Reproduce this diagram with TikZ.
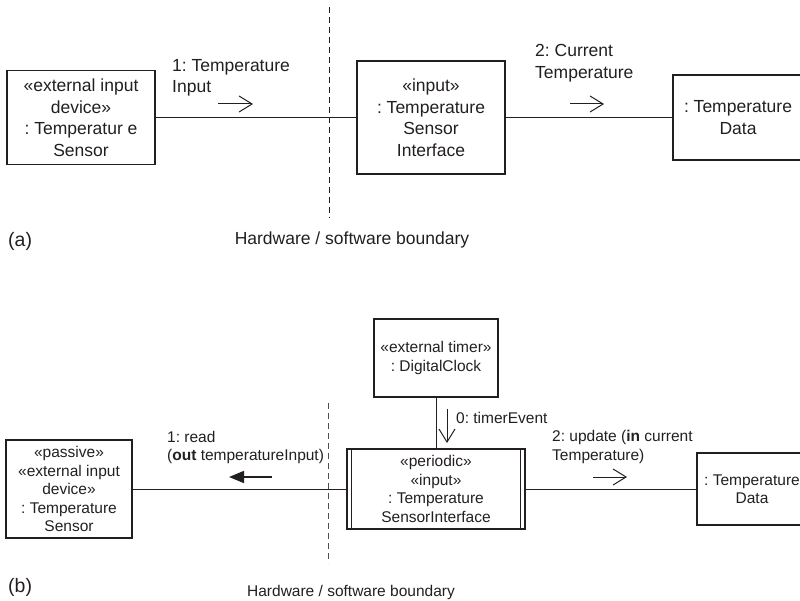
\documentclass[tikz,border=0pt]{standalone}
\usepackage{fontspec}
\setmainfont{Liberation Sans}
\usetikzlibrary{arrows.meta}
\frenchspacing
\definecolor{ink}{RGB}{35,31,32}
\newcommand{\bigf}{\fontsize{17.5}{21.5}\selectfont}
\newcommand{\smallf}{\fontsize{15.5}{18.5}\selectfont}
\tikzset{
  objbox/.style={draw=ink, line width=1.4pt, rectangle, align=center, inner sep=0pt, text=ink},
  conn/.style={draw=ink, line width=1pt},
  boundary/.style={draw=ink, line width=1pt, dash pattern=on 6pt off 4pt},
  msgopen/.style={draw=ink, line width=1pt, -{Straight Barb[length=13pt,width=16pt,line width=1pt]}},
  msgfill/.style={draw=ink, line width=1.6pt, -{Triangle[length=15pt,width=12pt]}},
  lbl/.style={align=left, inner sep=0pt, text=ink, anchor=west},
  clbl/.style={align=center, inner sep=0pt, text=ink},
}
\begin{document}
\begin{tikzpicture}[x=1pt,y=-1pt]
\useasboundingbox (0,0) rectangle (800,601);
% ---------- (a) ----------
\node[objbox, minimum width=148pt, minimum height=94pt, font=\bigf] (A1) at (81,117.5)
  {«external input\\device»\\: Temperatur e\\Sensor};
\node[objbox, minimum width=148pt, minimum height=113pt, font=\bigf] (A2) at (431,117.5)
  {«input»\\: Temperature\\Sensor\\Interface};
\node[objbox, minimum width=130pt, minimum height=85pt, font=\bigf] (A3) at (738,117.5)
  {: Temperature\\Data};
\draw[conn] (A1) -- (A2);
\draw[conn] (A2) -- (A3);
\coordinate (ta1) at (329,7);
\coordinate (tb1) at (329,218);
\draw[boundary] (ta1) -- (tb1);
\node[lbl, font=\bigf] (L1) at (172,78) {1: Temperature\\Input};
\coordinate (m1s) at (218,104);
\coordinate (m1e) at (253,104);
\draw[msgopen] (m1s) -- (m1e);
\node[lbl, font=\bigf] (L2) at (535,63) {2: Current\\Temperature};
\coordinate (m2s) at (570,104);
\coordinate (m2e) at (604,104);
\draw[msgopen] (m2s) -- (m2e);
\node[lbl, font=\fontsize{19.5}{23}\selectfont] (pa) at (8,241) {(a)};
\node[clbl, font=\bigf] (HA) at (352,240) {Hardware / software boundary};
% ---------- (b) ----------
\node[objbox, minimum width=126pt, minimum height=98pt, font=\smallf] (B1) at (69,489)
  {«passive»\\«external input\\device»\\: Temperature\\Sensor};
\node[objbox, minimum width=178pt, minimum height=80pt, font=\smallf] (B2) at (436,489)
  {«periodic»\\«input»\\: Temperature\\SensorInterface};
\draw[ink, line width=1.2pt] ([xshift=5pt]B2.north west) -- ([xshift=5pt]B2.south west);
\draw[ink, line width=1.2pt] ([xshift=-5pt]B2.north east) -- ([xshift=-5pt]B2.south east);
\node[objbox, minimum width=124pt, minimum height=78pt, font=\smallf] (B3) at (436,358)
  {«external timer»\\: DigitalClock};
\node[objbox, minimum width=110pt, minimum height=72pt, font=\smallf] (B4) at (752,489)
  {: Temperature\\Data};
\draw[conn] (B1) -- (B2);
\draw[conn] (B2) -- (B4);
\draw[conn] (B3) -- (B2);
\coordinate (bb1) at (328,403);
\coordinate (bb2) at (328,563);
\draw[boundary, draw=ink!80] (bb1) -- (bb2);
\node[lbl, font=\smallf] (L3) at (167,447.5) {1: read\\(\textbf{out} temperatureInput)};
\coordinate (m3s) at (272,477);
\coordinate (m3e) at (229,477);
\draw[msgfill] (m3s) -- (m3e);
\node[lbl, font=\smallf] (L0) at (456,418) {0: timerEvent};
\coordinate (m0s) at (447,409);
\coordinate (m0e) at (447,443);
\draw[msgopen] (m0s) -- (m0e);
\node[lbl, font=\smallf] (L4) at (552,447) {2: update (\textbf{in} current\\Temperature)};
\coordinate (m4s) at (593,477);
\coordinate (m4e) at (627,477);
\draw[msgopen] (m4s) -- (m4e);
\node[lbl, font=\fontsize{19.5}{23}\selectfont] (pb) at (8,587) {(b)};
\node[clbl, font=\smallf] (HB) at (351,592) {Hardware / software boundary};
\end{tikzpicture}
\end{document}
